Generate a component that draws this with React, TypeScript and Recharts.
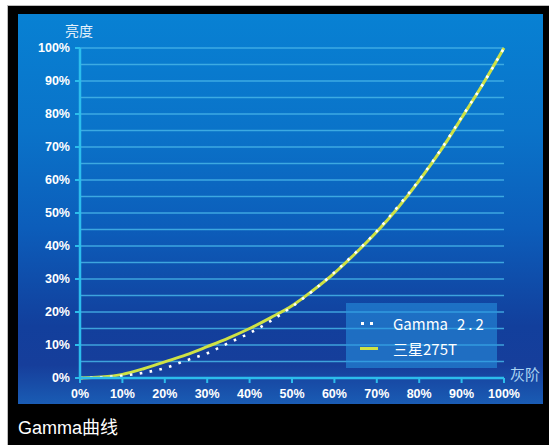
import { CartesianGrid, Legend, Line, LineChart, ReferenceLine, XAxis, YAxis } from "recharts";

// gray level (%) on the x axis, luminance (%) on the y axis
const grayLevels = [0, 5, 10, 15, 20, 25, 30, 35, 40, 45, 50, 55, 60, 65, 70, 75, 80, 85, 90, 95, 100];
const gamma22 = [0, 0.2, 0.7, 1.6, 3.0, 5.3, 7.5, 10.6, 13.6, 17.3, 21.6, 26.5, 32.0, 38.0, 44.5, 52.0, 60.0, 69.0, 79.0, 89.0, 100];
const samsung275T = [0, 0.3, 1.1, 2.8, 4.9, 7.0, 9.5, 12.1, 15.0, 18.3, 21.9, 26.6, 31.8, 37.8, 44.3, 51.6, 59.8, 68.8, 78.8, 89.0, 100];

const xTicks = [0, 10, 20, 30, 40, 50, 60, 70, 80, 90, 100];
const yTicks = [0, 10, 20, 30, 40, 50, 60, 70, 80, 90, 100];
const gridLevels = [5, 10, 15, 20, 25, 30, 35, 40, 45, 50, 55, 60, 65, 70, 75, 80, 85, 90, 95, 100];

const data = grayLevels.map((g, i) => ({ gray: g, gamma: gamma22[i], samsung: samsung275T[i] }));

const AXIS = "#2cbdec";
const GRID = "#45b4e6";
const YELLOW = "#cfe245";
const tickStyle = { fill: "#ffffff", fontSize: 12.5, fontWeight: 700, fontFamily: "'Liberation Sans', Arial, sans-serif" };
const cjk = "'Noto Sans CJK SC', 'Liberation Sans', sans-serif";

const pct = (v: number) => `${v}%`;

function LegendBox() {
  const row = { display: "flex", alignItems: "center", height: 25, color: "#ffffff", fontSize: 15, fontFamily: "'Liberation Sans Narrow', " + cjk };
  return (
    <div style={{ width: 151, height: 65, background: "rgba(40,150,225,0.55)", boxSizing: "border-box", padding: "8px 0 0 14px" }}>
      <div style={row}>
        <svg width={20} height={6} style={{ marginRight: 13 }}>
          <rect x={1} y={1} width={3} height={3} fill="#ffffff" />
          <rect x={10} y={1} width={3} height={3} fill="#ffffff" />
        </svg>
        <span>Gamma</span>
        <span style={{ marginLeft: 9, letterSpacing: 3 }}>2.2</span>
      </div>
      <div style={row}>
        <svg width={20} height={6} style={{ marginRight: 13 }}>
          <rect x={0} y={1} width={18} height={3} fill={YELLOW} />
        </svg>
        <span style={{ fontFamily: cjk, fontSize: 15 }}>三星275T</span>
      </div>
    </div>
  );
}

export default function App() {
  return (
    <div style={{ position: "fixed", left: 0, top: 0, width: 549, height: 445, background: "#ffffff" }}>
      <div style={{ position: "absolute", left: 7, top: 5, width: 542, height: 440, background: "#000", borderTop: "1px solid #bdbdbd", borderLeft: "1px solid #bdbdbd", boxSizing: "border-box" }} />
      <div
        style={{
          position: "absolute",
          left: 18,
          top: 14,
          width: 525,
          height: 390,
          background: "linear-gradient(180deg, #0881d3 0%, #0a73c9 30%, #0c5dba 55%, #123f9c 80%, #163e9b 90%, #1a5cb4 100%)",
        }}
      >
        <LineChart width={525} height={390} data={data} margin={{ top: 34, right: 39, bottom: 0, left: 0 }}>
          <CartesianGrid horizontal={false} vertical={false} />
          {gridLevels.map((v) => (
            <ReferenceLine key={v} y={v} stroke={GRID} strokeWidth={1.6} strokeOpacity={0.85} />
          ))}
          <XAxis
            type="number"
            dataKey="gray"
            domain={[0, 100]}
            ticks={xTicks}
            tickFormatter={pct}
            height={26}
            tickSize={5}
            tickMargin={6}
            tick={tickStyle}
            axisLine={{ stroke: AXIS, strokeWidth: 2.5 }}
            tickLine={{ stroke: AXIS, strokeWidth: 2 }}
            interval={0}
            label={({ viewBox }: any) => (
              <text x={viewBox.x + viewBox.width + 6} y={viewBox.y + 2} fill="#a9d3f2" fontSize={15} fontFamily={cjk}>
                灰阶
              </text>
            )}
          />
          <YAxis
            type="number"
            domain={[0, 100]}
            ticks={yTicks}
            tickFormatter={pct}
            width={62}
            tickSize={5}
            tickMargin={5}
            tick={tickStyle}
            axisLine={{ stroke: AXIS, strokeWidth: 2.5 }}
            tickLine={{ stroke: AXIS, strokeWidth: 2 }}
            interval={0}
            label={({ viewBox }: any) => (
              <text x={viewBox.x + viewBox.width - 1} y={viewBox.y - 12} textAnchor="middle" fill="#e6f2fb" fontSize={14} fontFamily={cjk}>
                亮度
              </text>
            )}
          />
          <Legend
            layout="vertical"
            align="center"
            verticalAlign="middle"
            wrapperStyle={{ left: 328, top: 289, width: 151, height: 65 }}
            content={() => <LegendBox />}
          />
          <Line
            type="monotone"
            dataKey="samsung"
            name="三星275T"
            stroke={YELLOW}
            strokeWidth={3}
            dot={false}
            isAnimationActive={false}
          />
          <Line
            type="monotone"
            dataKey="gamma"
            name="Gamma 2.2"
            stroke="#ffffff"
            strokeWidth={2.6}
            strokeDasharray="2.6 7.4"
            dot={false}
            isAnimationActive={false}
          />
        </LineChart>
      </div>
      <div style={{ position: "absolute", left: 18, top: 413, color: "#ffffff", fontSize: 18, fontFamily: "'Liberation Sans', 'Noto Sans CJK SC', sans-serif" }}>
        Gamma曲线
      </div>
    </div>
  );
}
